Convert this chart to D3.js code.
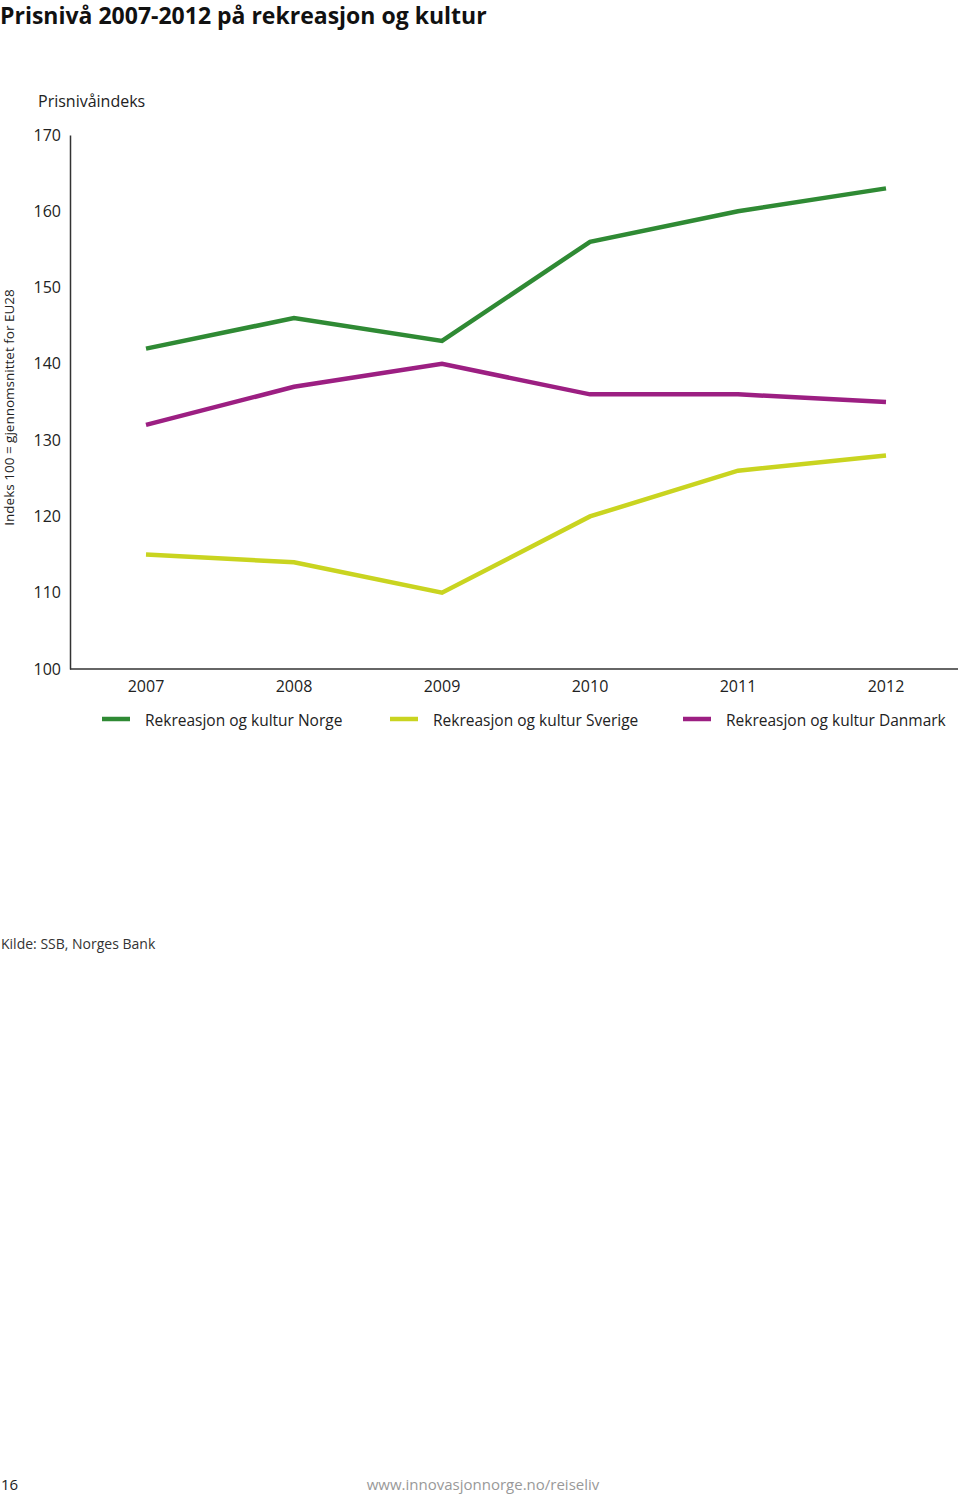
<!DOCTYPE html>
<html lang="no">
<head>
    <meta charset="UTF-8">
    <script src="https://cdn.jsdelivr.net/npm/d3@7"></script>
    <title>Prisnivå 2007-2012</title>
    <style>
        body { margin: 0; background: #fff; }
        svg { font-family: 'Open Sans', sans-serif; }
    </style>
</head>
<body>
    <svg id="mainsvg" width="960" height="1495"></svg>
    <script>
        const years = ['2007', '2008', '2009', '2010', '2011', '2012']
        const norge = [142, 146, 143, 156, 160, 163]
        const sverige = [115, 114, 110, 120, 126, 128]
        const danmark = [132, 137, 140, 136, 136, 135]
        const yTicks = [100, 110, 120, 130, 140, 150, 160, 170]
        const seriesNames = ['Rekreasjon og kultur Norge', 'Rekreasjon og kultur Sverige', 'Rekreasjon og kultur Danmark']
        const colors = ['#2f8a34', '#c9d420', '#9c1f82']

        const svg = d3.select('#mainsvg')
        const plot = { left: 70, right: 958, top: 135, bottom: 669 }

        const xScale = d3.scaleBand().domain(years).range([plot.left + 2, plot.right + 2])
        const yScale = d3.scaleLinear().domain([100, 170]).range([plot.bottom, plot.top])

        // title
        svg.append('text').text('Prisnivå 2007-2012 på rekreasjon og kultur')
            .attr('x', 0).attr('y', 24)
            .attr('font-size', 23).attr('font-weight', 'bold').attr('fill', '#111')

        svg.append('text').text('Prisnivåindeks')
            .attr('x', 38).attr('y', 107)
            .attr('font-size', 16).attr('fill', '#222')

        svg.append('text').text('Indeks 100 = gjennomsnittet for EU28')
            .attr('transform', `translate(14,${(290 + 525) / 2}) rotate(-90)`)
            .attr('text-anchor', 'middle')
            .attr('font-size', 13.5).attr('fill', '#222')

        // y axis
        const yAxis = d3.axisLeft(yScale).tickValues(yTicks).tickSize(0).tickPadding(9)
        const gy = svg.append('g').attr('transform', `translate(${plot.left},0)`).call(yAxis)
        gy.select('.domain').attr('stroke', '#333').attr('stroke-width', 1.5)
        gy.selectAll('.tick text').attr('font-size', 16).attr('fill', '#222')
            .attr('font-family', "'Open Sans', sans-serif")

        // x axis
        const xAxis = d3.axisBottom(xScale).tickSize(0).tickPadding(12)
        const gx = svg.append('g').attr('transform', `translate(0,${plot.bottom})`).call(xAxis)
        gx.select('.domain').attr('d', `M${plot.left},0H${plot.right}`)
            .attr('stroke', '#333').attr('stroke-width', 1.5)
        gx.selectAll('.tick text').attr('font-size', 16).attr('fill', '#222')
            .attr('font-family', "'Open Sans', sans-serif")

        // lines
        const line = d3.line()
            .x((d, i) => xScale(years[i]) + xScale.bandwidth() / 2)
            .y(d => yScale(d))
        ;[norge, sverige, danmark].forEach((s, k) => {
            svg.append('path').datum(s)
                .attr('d', line)
                .attr('fill', 'none')
                .attr('stroke', colors[k])
                .attr('stroke-width', 4.5)
        })

        // legend
        const legendX = [102, 390, 683]
        seriesNames.forEach((name, k) => {
            svg.append('line')
                .attr('x1', legendX[k]).attr('x2', legendX[k] + 28)
                .attr('y1', 719).attr('y2', 719)
                .attr('stroke', colors[k]).attr('stroke-width', 4.5)
            svg.append('text').text(name)
                .attr('x', legendX[k] + 43).attr('y', 726)
                .attr('font-size', 15.5).attr('fill', '#222')
        })

        svg.append('text').text('Kilde: SSB, Norges Bank')
            .attr('x', 1).attr('y', 949)
            .attr('font-size', 14).attr('fill', '#333')

        svg.append('text').text('16')
            .attr('x', 1).attr('y', 1490)
            .attr('font-size', 15).attr('fill', '#222')

        svg.append('text').text('www.innovasjonnorge.no/reiseliv')
            .attr('x', 483).attr('y', 1490).attr('text-anchor', 'middle')
            .attr('font-size', 15).attr('fill', '#999')
    </script>
</body>
</html>
